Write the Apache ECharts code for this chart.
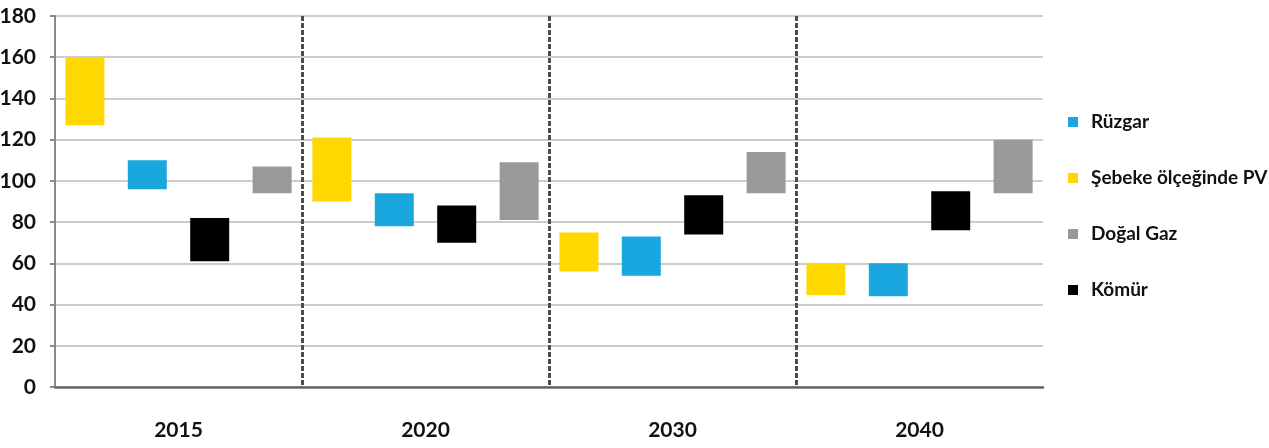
<!DOCTYPE html>
<html>
<head>
<meta charset="utf-8">
<script src="https://cdn.jsdelivr.net/npm/echarts@6/dist/echarts.min.js"></script>
<style>
  html, body { margin: 0; padding: 0; background: #fff; }
  #chart { width: 1269px; height: 448px; }
</style>
</head>
<body>
<div id="chart"></div>
<script>
// Years on the category axis
const years = ['2015', '2020', '2030', '2040'];

// Cost ranges (low / high) per technology
const pvLow = [127, 90, 56, 44.5];
const pvHigh = [160, 121, 75, 60];
const windLow = [96, 78, 54, 44];
const windHigh = [110, 94, 73, 60];
const coalLow = [61, 70, 74, 76];
const coalHigh = [82, 88, 93, 95];
const gasLow = [94, 81, 94, 94];
const gasHigh = [107, 109, 114, 120];

// Y axis ticks
const yMin = 0, yMax = 180, yStep = 20;

// Legend order
const legendOrder = ['Rüzgar', 'Şebeke ölçeğinde PV', 'Doğal Gaz', 'Kömür'];

const FONT = "Lato, 'DejaVu Sans Condensed', sans-serif";

// Each technology: name, colour, low and high arrays (drawn left to right in this order)
const techs = [
  { name: 'Şebeke ölçeğinde PV', color: '#FFD800', low: pvLow, high: pvHigh },
  { name: 'Rüzgar', color: '#1AA7E0', low: windLow, high: windHigh },
  { name: 'Kömür', color: '#000000', low: coalLow, high: coalHigh },
  { name: 'Doğal Gaz', color: '#999999', low: gasLow, high: gasHigh }
];

// Floating bars: an invisible base up to "low", then the visible span low→high
const series = [];
techs.forEach((t, i) => {
  series.push({
    name: 'base' + i,
    type: 'bar',
    stack: 'r' + i,
    barWidth: 39,
    barGap: '60%',
    silent: true,
    itemStyle: { color: 'transparent' },
    data: t.low
  });
  series.push({
    name: t.name,
    type: 'bar',
    stack: 'r' + i,
    barWidth: 39,
    barGap: '60%',
    itemStyle: { color: t.color },
    data: t.high.map((h, k) => +(h - t.low[k]).toFixed(2))
  });
});

const chart = echarts.init(document.getElementById('chart'), null, { renderer: 'canvas' });
chart.setOption({
  animation: false,
  backgroundColor: '#ffffff',
  grid: { left: 55, right: 226, top: 16, bottom: 61, containLabel: false, outerBoundsMode: 'none' },
  legend: {
    orient: 'vertical',
    left: 1063,
    top: 107,
    itemWidth: 10,
    itemHeight: 10,
    itemGap: 36,
    icon: 'rect',
    data: legendOrder,
    textStyle: {
      fontFamily: FONT,
      fontSize: 19,
      fontWeight: 'bold',
      color: '#111',
      lineHeight: 20,
      padding: [0, 0, 0, 8]
    }
  },
  xAxis: {
    type: 'category',
    data: years,
    boundaryGap: true,
    axisLine: { show: true, lineStyle: { color: '#666', width: 2.5 } },
    axisTick: { show: false },
    axisLabel: {
      margin: 33,
      fontFamily: FONT,
      fontSize: 21,
      fontWeight: 'bold',
      color: '#111'
    },
    splitLine: {
      show: true,
      showMinLine: false,
      showMaxLine: false,
      lineStyle: { color: '#4d4d4d', width: 3, type: [5, 2] }
    }
  },
  yAxis: {
    type: 'value',
    min: yMin,
    max: yMax,
    interval: yStep,
    axisLine: { show: true, lineStyle: { color: '#888', width: 2 } },
    axisTick: { show: true, length: 5, lineStyle: { color: '#888', width: 2 } },
    axisLabel: {
      margin: 19,
      fontFamily: FONT,
      fontSize: 21,
      fontWeight: 'bold',
      color: '#111'
    },
    splitLine: { show: true, lineStyle: { color: '#cdcdcd', width: 2 } }
  },
  series: series
});
</script>
</body>
</html>
